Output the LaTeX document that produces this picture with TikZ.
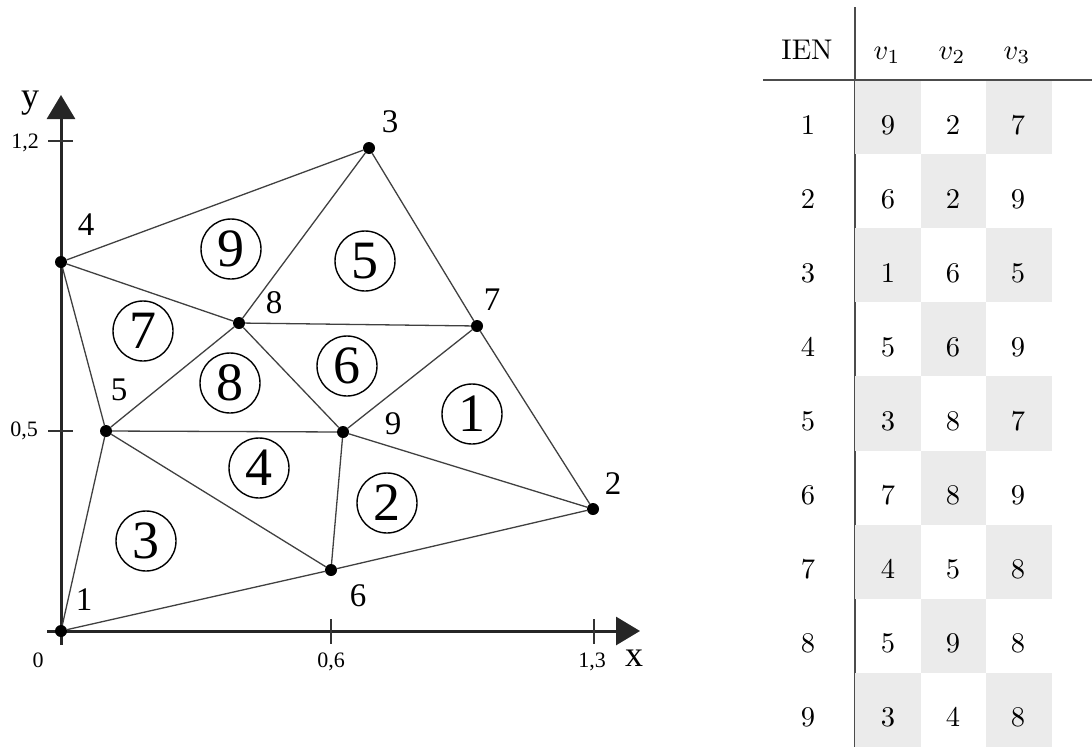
\RequirePackage{fix-cm}
\documentclass[tikz,border=0pt]{standalone}
\usepackage{fontspec}
\usepackage{graphicx}
\newfontfamily\meshfont{Liberation Serif}
\usetikzlibrary{arrows.meta}
\definecolor{cellgray}{HTML}{EBEBEB}
\newcommand{\tabtxt}[1]{\scalebox{2.85}{#1}}
\begin{document}
\begin{tikzpicture}[x=1pt,y=-1pt,
  vtx/.style={circle,fill=black,inner sep=0pt,minimum size=12pt},
  edge/.style={line width=1.3pt,draw=black!75},
  axis/.style={line width=3pt,draw=black!85},
  tick/.style={line width=1.4pt,draw=black!80},
  vlab/.style={font=\meshfont\fontsize{33}{33}\selectfont,inner sep=0pt},
  elab/.style={circle,draw,line width=1.4pt,minimum size=60pt,inner sep=0pt,font=\meshfont\fontsize{54}{54}\selectfont},
  ticklab/.style={font=\meshfont\fontsize{22}{22}\selectfont,inner sep=0pt},
  axlab/.style={font=\meshfont\fontsize{36}{36}\selectfont,inner sep=0pt},
  rule/.style={line width=1.2pt,draw=black!70},
  tab/.style={inner sep=0pt}
]
\useasboundingbox (0,0) rectangle (1092,747);

% ---------------- axes ----------------
\coordinate (xs) at (47,631);
\coordinate (xe) at (640,631);
\coordinate (ys) at (61,645);
\coordinate (ye) at (61,95);
\draw[axis,-{Triangle[length=24pt,width=28pt]}] (xs) -- (xe);
\draw[axis,-{Triangle[length=24pt,width=28pt]}] (ys) -- (ye);
\coordinate (t12a) at (48,141); \coordinate (t12b) at (73,141);
\coordinate (t05a) at (48,431); \coordinate (t05b) at (73,431);
\coordinate (t06a) at (331,619); \coordinate (t06b) at (331,644);
\coordinate (t13a) at (594,619); \coordinate (t13b) at (594,644);
\draw[tick] (t12a) -- (t12b);
\draw[tick] (t05a) -- (t05b);
\draw[tick] (t06a) -- (t06b);
\draw[tick] (t13a) -- (t13b);
\node[axlab] (ly) at (30,103) {y};
\node[axlab] (lx) at (634,658) {x};
\node[ticklab] (l12) at (25,143) {1,2};
\node[ticklab] (l05) at (24,431) {0,5};
\node[ticklab] (l0) at (38,660) {0};
\node[ticklab] (l06) at (331,662) {0,6};
\node[ticklab] (l13) at (592,662) {1,3};

% ---------------- vertices ----------------
\node[vtx] (n1) at (61,631) {};
\node[vtx] (n2) at (593,509) {};
\node[vtx] (n3) at (369,148) {};
\node[vtx] (n4) at (61,262) {};
\node[vtx] (n5) at (106,431) {};
\node[vtx] (n6) at (331,570) {};
\node[vtx] (n7) at (477,326) {};
\node[vtx] (n8) at (239,323) {};
\node[vtx] (n9) at (343,432) {};

\foreach \a/\b in {9/2,2/7,7/9,6/2,6/9,1/6,6/5,5/1,5/9,3/8,8/7,7/3,8/9,4/5,5/8,8/4,3/4}
  \draw[edge] (n\a) -- (n\b);

% vertex labels
\node[vlab] (v1) at (84,600) {1};
\node[vlab] (v2) at (613,484) {2};
\node[vlab] (v3) at (390,122) {3};
\node[vlab] (v4) at (86,225) {4};
\node[vlab] (v5) at (119,390) {5};
\node[vlab] (v6) at (358,596) {6};
\node[vlab] (v7) at (492,300) {7};
\node[vlab] (v8) at (274,303) {8};
\node[vlab] (v9) at (393,424) {9};

% element labels
\node[elab] (e1) at (472,414) {1};
\node[elab] (e2) at (387,503) {2};
\node[elab] (e3) at (146,541) {3};
\node[elab] (e4) at (259,468) {4};
\node[elab] (e5) at (365,261) {5};
\node[elab] (e6) at (347,366) {6};
\node[elab] (e7) at (143,331) {7};
\node[elab] (e8) at (230,383) {8};
\node[elab] (e9) at (231,249) {9};

% ---------------- table ----------------
\coordinate (vt) at (855,7);
\coordinate (vb) at (855,747);
\draw[rule] (vt) -- (vb);
\foreach \r in {1,3,5,7,9} {
  \pgfmathsetmacro{\ytop}{80+74.1*(\r-1)}
  \pgfmathsetmacro{\ybot}{min(80+74.1*\r,747)}
  \fill[cellgray] (855,\ytop) rectangle (921,\ybot);
  \fill[cellgray] (986,\ytop) rectangle (1052,\ybot);
}
\foreach \r in {2,4,6,8} {
  \pgfmathsetmacro{\ytop}{80+74.1*(\r-1)}
  \pgfmathsetmacro{\ybot}{80+74.1*\r}
  \fill[cellgray] (921,\ytop) rectangle (986,\ybot);
}
\coordinate (hl) at (763,80);
\coordinate (hr) at (1092,80);
\draw[rule] (hl) -- (hr);

\node[tab,anchor=base] (hIEN) at (807,59) {\tabtxt{IEN}};
\node[tab,anchor=base] (hv1) at (887,59) {\tabtxt{$v_1$}};
\node[tab,anchor=base] (hv2) at (952,59) {\tabtxt{$v_2$}};
\node[tab,anchor=base] (hv3) at (1017,59) {\tabtxt{$v_3$}};

\foreach \r/\a/\b/\c in {1/9/2/7,2/6/2/9,3/1/6/5,4/5/6/9,5/3/8/7,6/7/8/9,7/4/5/8,8/5/9/8,9/3/4/8} {
  \pgfmathsetmacro{\yc}{125+74*(\r-1)}
  \node[tab] (r\r) at (808,\yc) {\tabtxt{\r}};
  \node[tab] (r\r a) at (888,\yc) {\tabtxt{\a}};
  \node[tab] (r\r b) at (953,\yc) {\tabtxt{\b}};
  \node[tab] (r\r c) at (1018,\yc) {\tabtxt{\c}};
}
\end{tikzpicture}
\end{document}
